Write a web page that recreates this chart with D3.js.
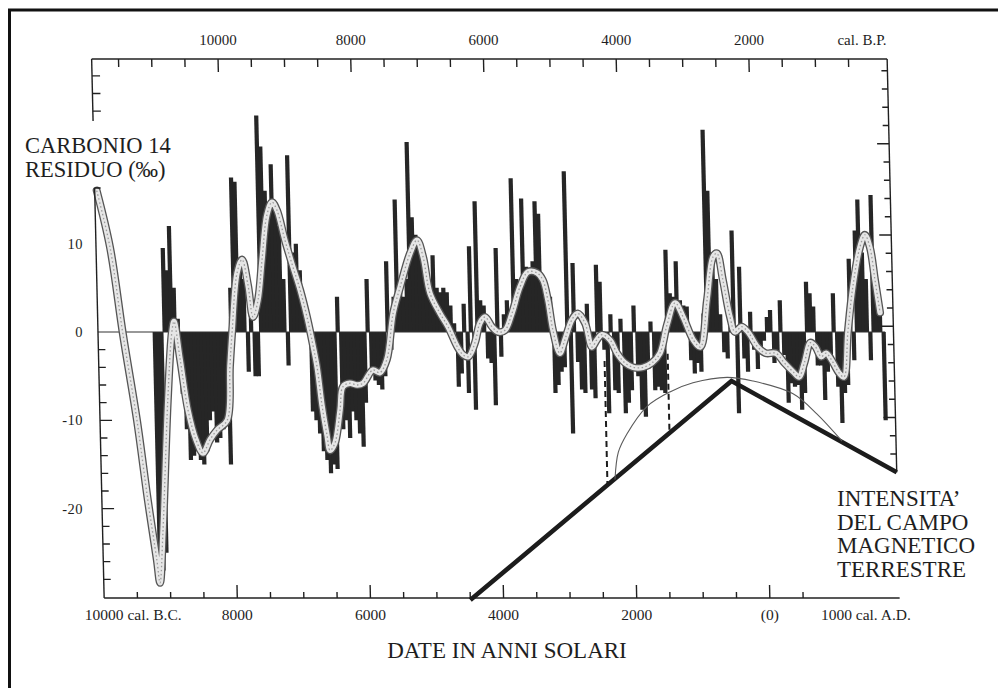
<!DOCTYPE html>
<html><head><meta charset="utf-8">
<script src="https://cdn.jsdelivr.net/npm/d3@7"></script>
<style>
html,body{margin:0;padding:0;background:#fff;}
svg{display:block;}
text{font-family:"Liberation Serif","Times New Roman",serif;fill:#1e1e1e;}
</style></head><body>
<svg id="chart" width="998" height="688"></svg>
<script>
// ---------- DATA ----------
// residual C14 (per mil), 50-year bins, first bin centred on 9150 cal BC
const binStart = -9150, binStep = 50;
const residual = [
 -26,-27,-25,9.5,7,12,5,1.5,-7,-11,
 -14.5,-14,-13.5,-14.5,-15,-13.5,-10,-9,-12.5,-12,
 -11,-10.5,-15,5,17.5,17,7,6,-4.5,3,
 -5,-5,24.5,21,16,13,19,14,12,6,
 -3.8,20,9,10,7,3,1.5,-9,-10,-11.5,
 -13.5,-14.5,-16,-15,-15.5,4,-11,-10,-12,-9,
 -10,-11.5,-13,-8,6,-4.5,-5.5,-6,-6.5,-5,
 8,-2,4,15,5,4,6,21.5,13,11,
 10,8,7.5,4,8.7,5,4.5,5,4.5,3,
 1,-6.2,-4.7,3.2,-6.9,9.7,-8.8,14.8,3.6,3,
 -3,-3.5,-8.3,9.5,-2.8,2,3.6,1,17.4,6,
 5.5,15.1,7.4,7,8,14.8,13.4,5,3.6,4,
 -6.9,-6,-4.5,-4,18.2,-11.5,7.8,-3.4,-6.5,-6.9,
 3.2,-6.5,-7.5,7.6,5.7,-2,-9.2,2,-6.6,-6.9,
 1.5,-9.2,-8,-6.6,3,-5,-8.8,-9.6,-4.2,1.2,
 -6.6,-6.2,-6.6,-6.9,9.3,4.4,4,8,3.6,3,
 2.9,-3.2,-4.7,-3.5,-4.5,2.1,22.9,16,9,6,
 2,-2.3,-3,3,11.5,-9.2,7.4,-3,-4.5,2.3,
 -2,-4.2,-2.3,-1,1.7,2.5,-3.5,-2.8,3.6,-2.6,
 -8,-5.8,-6.2,-6,-8.8,-6.9,5.7,4.4,2.9,-3.8,
 -3.8,-7.7,-4.5,-3,4.4,-6.2,-10.3,-6.9,-6,8.3,
 -3.2,11.5,15,9,6,-3.2,15.5,4.4,2.2,-10
];
const binYears = residual.map((d, i) => binStart + i * binStep);

// smoothed curve
const curveYears = [
 -9970,-9790,-9625,-9445,-9310,-9195,-9155,-9095,-8975,-8890,
 -8855,-8775,-8675,-8565,-8465,-8355,-8245,-8090,-8030,-7985,
 -7890,-7810,-7730,-7665,-7585,-7510,-7420,-7340,-7270,-7160,
 -7050,-6950,-6855,-6775,-6720,-6660,-6595,-6555,-6480,-6390,
 -6340,-6235,-6125,-6035,-5885,-5780,-5670,-5560,-5445,-5285,
 -5175,-5090,-5000,-4855,-4740,-4605,-4520,-4445,-4340,-4260,
 -4180,-4080,-3990,-3885,-3775,-3645,-3520,-3385,-3300,-3230,
 -3165,-3070,-2990,-2875,-2785,-2680,-2585,-2510,-2430,-2310,
 -2210,-2095,-1975,-1825,-1690,-1565,-1450,-1320,-1205,-1060,
 -955,-840,-735,-675,-595,-500,-430,-330,-235,-95,
 25,175,300,440,515,600,700,775,855,930,
 1005,1115,1190,1265,1355,1475,1555,1625,1690,1755
];
const curveValues = [
 16,9.6,-0.3,-10,-19,-25.8,-28.4,-22.8,-7.7,0,
 1.2,-3.1,-8.8,-12.2,-13.7,-12.2,-11.1,-10,-3.9,0,
 6.7,8.2,5.3,1.7,3.6,8.2,13.3,14.7,13.8,10.4,
 7.4,4.8,1.7,-1.5,-4,-8.3,-11.7,-13.4,-12.6,-8.8,
 -6.2,-5.8,-6,-5.8,-4.3,-4.6,-3.1,2.1,5.1,8.9,
 10.4,8.5,4.4,2.1,0.6,-1.7,-2.6,-2.8,-1.2,1,
 1.7,0.6,0,0.2,2.1,5.1,6.8,6.7,5.9,3.6,
 0.2,-2.4,-0.9,1.4,2.1,1,-1.7,-0.9,-0.3,-0.9,
 -2.4,-3.5,-4,-4,-3.5,-2.4,0.8,3.3,1.7,-0.9,
 -1.7,3.6,8.5,8.9,5.9,1.7,0,0.6,0,-1.7,
 -2.4,-2.4,-3.5,-4.6,-5.1,-3.5,-1.2,-1.7,-2.8,-2.4,
 -3.1,-4.6,-5.1,0,5.1,9.6,11,9.6,5.9,2.2
];

// earth magnetic field intensity (arbitrary units on right axis)
const magYears  = [-4500, -500, 1950];
const magValues = [0, 12, 7];
const arcYears  = [-2285, -2225, -2090, -1780, -1430, -1080, -565, -180, 420, 770, 1140];
const arcValues = [6.6, 8.1, 9.1, 10.6, 11.4, 11.9, 12.2, 12.0, 11.3, 10.2, 8.7];
const markerYears = [-2400, -1450];
const markerTops  = [13.1, 13.5];

// axis ticks / labels
const topTicksBP   = d3.range(500, 12000, 500);
const topLabelsBP  = [10000, 8000, 6000, 4000, 2000];
const bottomTicks  = d3.range(-9500, 1000, 500);
const bottomLabelYears  = [-10000, -8000, -6000, -4000, -2000, 0, 1000];
const bottomLabelNums   = ["10000", "8000", "6000", "4000", "2000", "(0)", "1000"];
const bottomLabelSuffix = [" cal. B.C.", "", "", "", "", "", " cal. A.D."];
const leftLabelValues = [10, 0, -10, -20];
const leftLabelTexts  = ["10", "0", "-10", "-20"];
const leftLowerTicks  = d3.range(-28, 0, 2);
const leftUpperTicks  = [29, 27, 25];
const magTicks = d3.range(8, 30, 1);

// ---------- LAYOUT ----------
const svg = d3.select('#chart');
const t = 0.0232, y0 = 333;               // slight skew of the scanned page
const sx = (px, py) => px + t * (py - y0);
const yTop = 59, yBot = 598;
const ink = '#202020';

const x   = d3.scaleLinear().domain([-10000, 1950]).range([98, 893.5]);
const xBP = d3.scaleLinear().domain([11950, 0]).range([95, 888]);
const y   = d3.scaleLinear().domain([-30, 30]).range([597, 67]);
const m   = d3.scaleLinear().domain([0, 10]).range([600, 417.5]);
const magLine = d3.scaleLinear().domain(magYears).range(magValues);

// page frame (only top and left edges visible)
svg.append('rect').attr('x', 9.5).attr('y', 10).attr('width', 1100).attr('height', 900)
  .attr('fill', 'none').attr('stroke', '#111').attr('stroke-width', 3);

const g = svg.append('g')
  .attr('transform', `translate(${-y0 * t},0) skewX(${Math.atan(t) * 180 / Math.PI})`);

// bars
const bw = x(binStep - 10000) - x(-10000);
g.append('g').selectAll('rect').data(residual).join('rect')
  .attr('x', (d, i) => x(binYears[i]) - bw / 2 - 0.3)
  .attr('width', bw + 0.9)
  .attr('y', d => y(Math.max(0, d)))
  .attr('height', d => Math.abs(y(d) - y(0)))
  .attr('fill', '#262626');

// zero line
g.append('line').attr('x1', x(-10000)).attr('x2', x(binYears[binYears.length - 1]) + bw / 2)
  .attr('y1', y(0)).attr('y2', y(0)).attr('stroke', '#333').attr('stroke-width', 1);

// smoothed curve
const pts = curveYears.map((yr, i) => [yr, curveValues[i]]);
const cLine = d3.line().x(d => x(d[0])).y(d => y(d[1])).curve(d3.curveCatmullRom.alpha(0.5));
g.append('path').attr('d', cLine(pts)).attr('fill', 'none').attr('stroke', '#555')
  .attr('stroke-width', 8).attr('stroke-linejoin', 'round').attr('stroke-linecap', 'round');
g.append('path').attr('d', cLine(pts)).attr('fill', 'none').attr('stroke', '#e6e6e6')
  .attr('stroke-width', 5.4).attr('stroke-linejoin', 'round').attr('stroke-linecap', 'round');
g.append('path').attr('d', cLine(pts)).attr('fill', 'none').attr('stroke', '#9c9c9c')
  .attr('stroke-width', 1.3).attr('stroke-dasharray', '1.5,2.5');

// axes
const ax = g.append('g').attr('stroke', ink).attr('stroke-width', 1.4).attr('fill', 'none');
// top axis
ax.append('line').attr('x1', x(-10000)).attr('x2', x(1950)).attr('y1', yTop).attr('y2', yTop);
topTicksBP.forEach(bp => {
  const len = bp % 2000 === 0 ? 13 : 8;
  ax.append('line').attr('x1', xBP(bp)).attr('x2', xBP(bp)).attr('y1', yTop).attr('y2', yTop + len);
});
// bottom axis
ax.append('line').attr('x1', x(-10000)).attr('x2', x(1950)).attr('y1', yBot).attr('y2', yBot);
bottomTicks.forEach(yr => {
  const len = yr % 2000 === 0 ? 13 : 6;
  ax.append('line').attr('x1', x(yr)).attr('x2', x(yr)).attr('y1', yBot).attr('y2', yBot - len);
});
// left axis: upper piece
const xl = x(-10000);
ax.append('line').attr('x1', xl).attr('x2', xl).attr('y1', yTop).attr('y2', y(23.9));
leftUpperTicks.forEach(v => ax.append('line').attr('x1', xl).attr('x2', xl + 8).attr('y1', y(v)).attr('y2', y(v)));
// left axis: lower piece
ax.append('line').attr('x1', xl).attr('x2', xl).attr('y1', y(16.3)).attr('y2', yBot);
ax.append('line').attr('x1', xl).attr('x2', xl + 6).attr('y1', y(16.3)).attr('y2', y(16.3));
leftLowerTicks.forEach(v => {
  const len = v % 10 === 0 ? 12 : 7;
  ax.append('line').attr('x1', xl).attr('x2', xl + len).attr('y1', y(v)).attr('y2', y(v));
});
// right axis (magnetic field)
const xr = x(1950);
ax.append('line').attr('x1', xr).attr('x2', xr).attr('y1', yTop).attr('y2', m(7));
magTicks.forEach(v => {
  const len = v % 5 === 0 ? 12 : 6;
  ax.append('line').attr('x1', xr).attr('x2', xr - len).attr('y1', m(v)).attr('y2', m(v));
});

// magnetic intensity
g.append('path')
  .attr('d', d3.line().x((d, i) => x(magYears[i])).y(d => m(d))(magValues))
  .attr('fill', 'none').attr('stroke', '#1c1c1c').attr('stroke-width', 4.5).attr('stroke-linejoin', 'miter');
g.append('path')
  .attr('d', d3.line().x((d, i) => x(arcYears[i])).y(d => m(d)).curve(d3.curveCatmullRom.alpha(0.5))(arcValues))
  .attr('fill', 'none').attr('stroke', '#5a5a5a').attr('stroke-width', 1.1);
markerYears.forEach((yr, i) => {
  g.append('line').attr('x1', x(yr)).attr('x2', x(yr))
    .attr('y1', m(markerTops[i])).attr('y2', m(magLine(yr)))
    .attr('stroke', '#1c1c1c').attr('stroke-width', 2).attr('stroke-dasharray', '6,4');
});

// ---------- TEXT ----------
topLabelsBP.forEach(bp => {
  svg.append('text').attr('x', sx(xBP(bp), yTop)).attr('y', 45).attr('text-anchor', 'middle')
    .attr('font-size', 15).attr('fill', '#333').text(bp);
});
svg.append('text').attr('x', 862).attr('y', 45).attr('text-anchor', 'middle')
  .attr('font-size', 15).attr('fill', '#333').text('cal. B.P.');

bottomLabelYears.forEach((yr, i) => {
  const tx = sx(x(yr), yBot);
  const txt = svg.append('text').attr('y', 620).attr('font-size', 15.5).attr('fill', '#333');
  const num = txt.append('tspan').text(bottomLabelNums[i]);
  if (bottomLabelSuffix[i]) txt.append('tspan').text(bottomLabelSuffix[i]);
  const w = num.node().getComputedTextLength();
  txt.attr('x', tx - w / 2);
});

leftLabelValues.forEach((v, i) => {
  svg.append('text').attr('x', 83).attr('y', y(v)).attr('dy', '0.35em').attr('text-anchor', 'end')
    .attr('font-size', 14.5).attr('letter-spacing', 0.5).attr('fill', '#333').text(leftLabelTexts[i]);
});

svg.append('text').attr('x', 25).attr('y', 153).attr('font-size', 22.5).text('CARBONIO 14');
svg.append('text').attr('x', 25).attr('y', 177).attr('font-size', 22.5).text('RESIDUO (‰)');

['INTENSITA’', 'DEL CAMPO', 'MAGNETICO', 'TERRESTRE'].forEach((s, i) => {
  svg.append('text').attr('x', 837).attr('y', 506 + i * 23.7).attr('font-size', 23).text(s);
});

svg.append('text').attr('x', 507).attr('y', 658).attr('text-anchor', 'middle')
  .attr('font-size', 23).text('DATE IN ANNI SOLARI');
</script>
</body></html>
